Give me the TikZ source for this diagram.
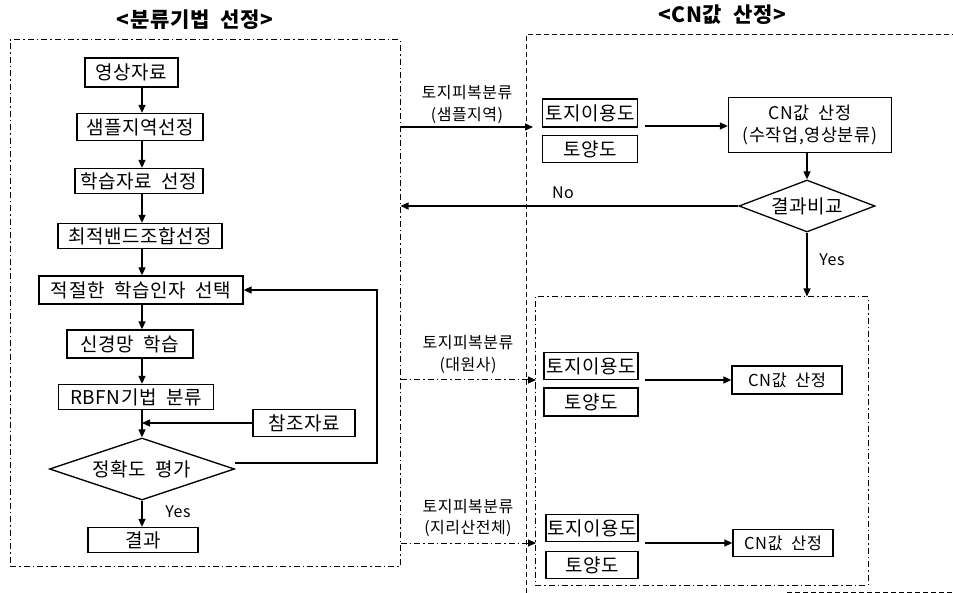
\documentclass[tikz,border=0pt]{standalone}
\usepackage{fontspec}
\setmainfont{Noto Sans CJK KR}[LetterSpace=3,WordSpace=2]
\usetikzlibrary{shapes.geometric,arrows.meta,calc}
\begin{document}
\begin{tikzpicture}[x=1pt,y=-1pt,
  box/.style={draw,line width=1.3pt,inner sep=0pt,font=\fontsize{19}{20}\selectfont},
  dia/.style={draw,diamond,aspect=3,line width=1.3pt,inner sep=0pt,font=\fontsize{19}{20}\selectfont},
  lab/.style={inner sep=0pt,font=\fontsize{16}{17}\selectfont},
  ttl/.style={inner sep=0pt,font=\fontsize{21}{22}\selectfont\bfseries},
  arr/.style={line width=1.3pt,-{Triangle[length=8pt,width=7pt]}},
  ddot/.style={dash pattern=on 6pt off 3pt on 1.5pt off 3pt,line width=1pt},
  dashd/.style={dash pattern=on 5pt off 3pt,line width=1pt}]
\useasboundingbox (0,0) rectangle (953,593);
% titles
\node[ttl] (t1) at (195,20) {<분류기법 선정>};
\node[ttl] (t2) at (722,15) {<CN값 산정>};
% left frame
\node[ddot,draw,minimum width=390pt,minimum height=526pt,inner sep=0pt] (lbox) at (205,303) {};
\coordinate (col) at (142,0);
% left column
\node[box,minimum width=93pt,minimum height=29pt] (n1) at (131.5,72.5) {영상자료};
\node[box,minimum width=126pt,minimum height=27pt] (n2) at (140,127) {샘플지역선정};
\node[box,minimum width=128pt,minimum height=25pt] (n3) at (139,181) {학습자료 선정};
\node[box,minimum width=164pt,minimum height=25pt] (n4) at (140,236) {최적밴드조합선정};
\node[box,minimum width=204pt,minimum height=28pt] (n5) at (141,290) {적절한 학습인자 선택};
\node[box,minimum width=126pt,minimum height=28pt] (n6) at (130,344) {신경망 학습};
\node[box,minimum width=155pt,minimum height=25pt] (n7) at (136,397) {RBFN기법 분류};
\node[box,minimum width=102pt,minimum height=27pt] (ref) at (304,423) {참조자료};
\node[dia,minimum width=185pt,minimum height=62pt] (d1) at (142,469) {정확도 평가};
\node[box,minimum width=110pt,minimum height=25pt] (n8) at (143,540) {결과};
\draw[arr] (n1.south -| col) -- (n2.north -| col);
\draw[arr] (n2.south -| col) -- (n3.north -| col);
\draw[arr] (n3.south -| col) -- (n4.north -| col);
\draw[arr] (n4.south -| col) -- (n5.north -| col);
\draw[arr] (n5.south -| col) -- (n6.north -| col);
\draw[arr] (n6.south -| col) -- (n7.north -| col);
\draw[arr] (n7.south -| col) -- (d1.north);
\draw[arr] (ref.west) -- (ref.west -| col);
\draw[arr] (d1.south) -- (n8.north -| d1.south);
\node[lab] (yes1) at (178,512) {Yes};
\coordinate (fb) at (377,463);
\draw[arr] ([yshift=6pt]d1.east) -- (fb) -- (fb |- n5.east) -- (n5.east);
% right outer frame (dashed)
\draw[dashd] (526,593) -- (526,35) -- (953,35);
\draw[dashd] (787,592) -- (953,592);
% inner frame
\node[ddot,draw,minimum width=333pt,minimum height=288pt,inner sep=0pt] (ibox) at (701.5,441) {};
% upper group
\node[lab] (l1a) at (467,93) {토지피복분류};
\node[lab] (l1b) at (467,115) {(샘플지역)};
\coordinate (e1) at (533,127);
\draw[arr] (lbox.east |- e1) -- (e1);
\node[box,minimum width=95pt,minimum height=28pt] (a1) at (590,113) {토지이용도};
\node[box,minimum width=95pt,minimum height=27pt] (b1) at (590,149) {토양도};
\node[box,minimum width=163pt,minimum height=55pt,align=center,font=\fontsize{17.5}{22}\selectfont] (c1) at (810,125) {CN값 산정\\(수작업,영상분류)};
\coordinate (s1) at (645,126);
\draw[arr] (s1) -- (s1 -| c1.west);
\node[dia,minimum width=136pt,minimum height=52pt] (d2) at (807,206) {결과비교};
\draw[arr] (c1.south -| d2) -- (d2.north);
\draw[arr] (d2.west) -- (d2.west -| lbox.east);
\node[lab] (no) at (563,193) {No};
\draw[arr] (d2.south) -- (d2.south |- ibox.north);
\node[lab] (yes2) at (832,260) {Yes};
% middle group
\node[lab] (l2a) at (468,343) {토지피복분류};
\node[lab] (l2b) at (468,365) {(대원사)};
\coordinate (e2) at (536,380);
\draw[ddot,-{Triangle[length=8pt,width=7pt]}] (lbox.east |- e2) -- (e2);
\node[box,minimum width=94pt,minimum height=27pt] (a2) at (591,366) {토지이용도};
\node[box,minimum width=94pt,minimum height=28pt] (b2) at (591,402) {토양도};
\node[box,minimum width=110pt,minimum height=28pt,font=\fontsize{16.5}{18}\selectfont] (c2) at (787,380) {CN값 산정};
\coordinate (s2) at (645,380);
\draw[arr] (s2) -- (s2 -| c2.west);
% lower group
\node[lab] (l3a) at (468,507) {토지피복분류};
\node[lab] (l3b) at (468,528) {(지리산전체)};
\coordinate (e3) at (536,543);
\draw[ddot,-{Triangle[length=8pt,width=7pt]}] (lbox.east |- e3) -- (e3);
\node[box,minimum width=92pt,minimum height=27pt] (a3) at (592,528) {토지이용도};
\node[box,minimum width=92pt,minimum height=27pt] (b3) at (592,565) {토양도};
\node[box,minimum width=100pt,minimum height=27pt,font=\fontsize{16.5}{18}\selectfont] (c3) at (783,543) {CN값 산정};
\coordinate (s3) at (645,543);
\draw[arr] (s3) -- (s3 -| c3.west);
\end{tikzpicture}
\end{document}
